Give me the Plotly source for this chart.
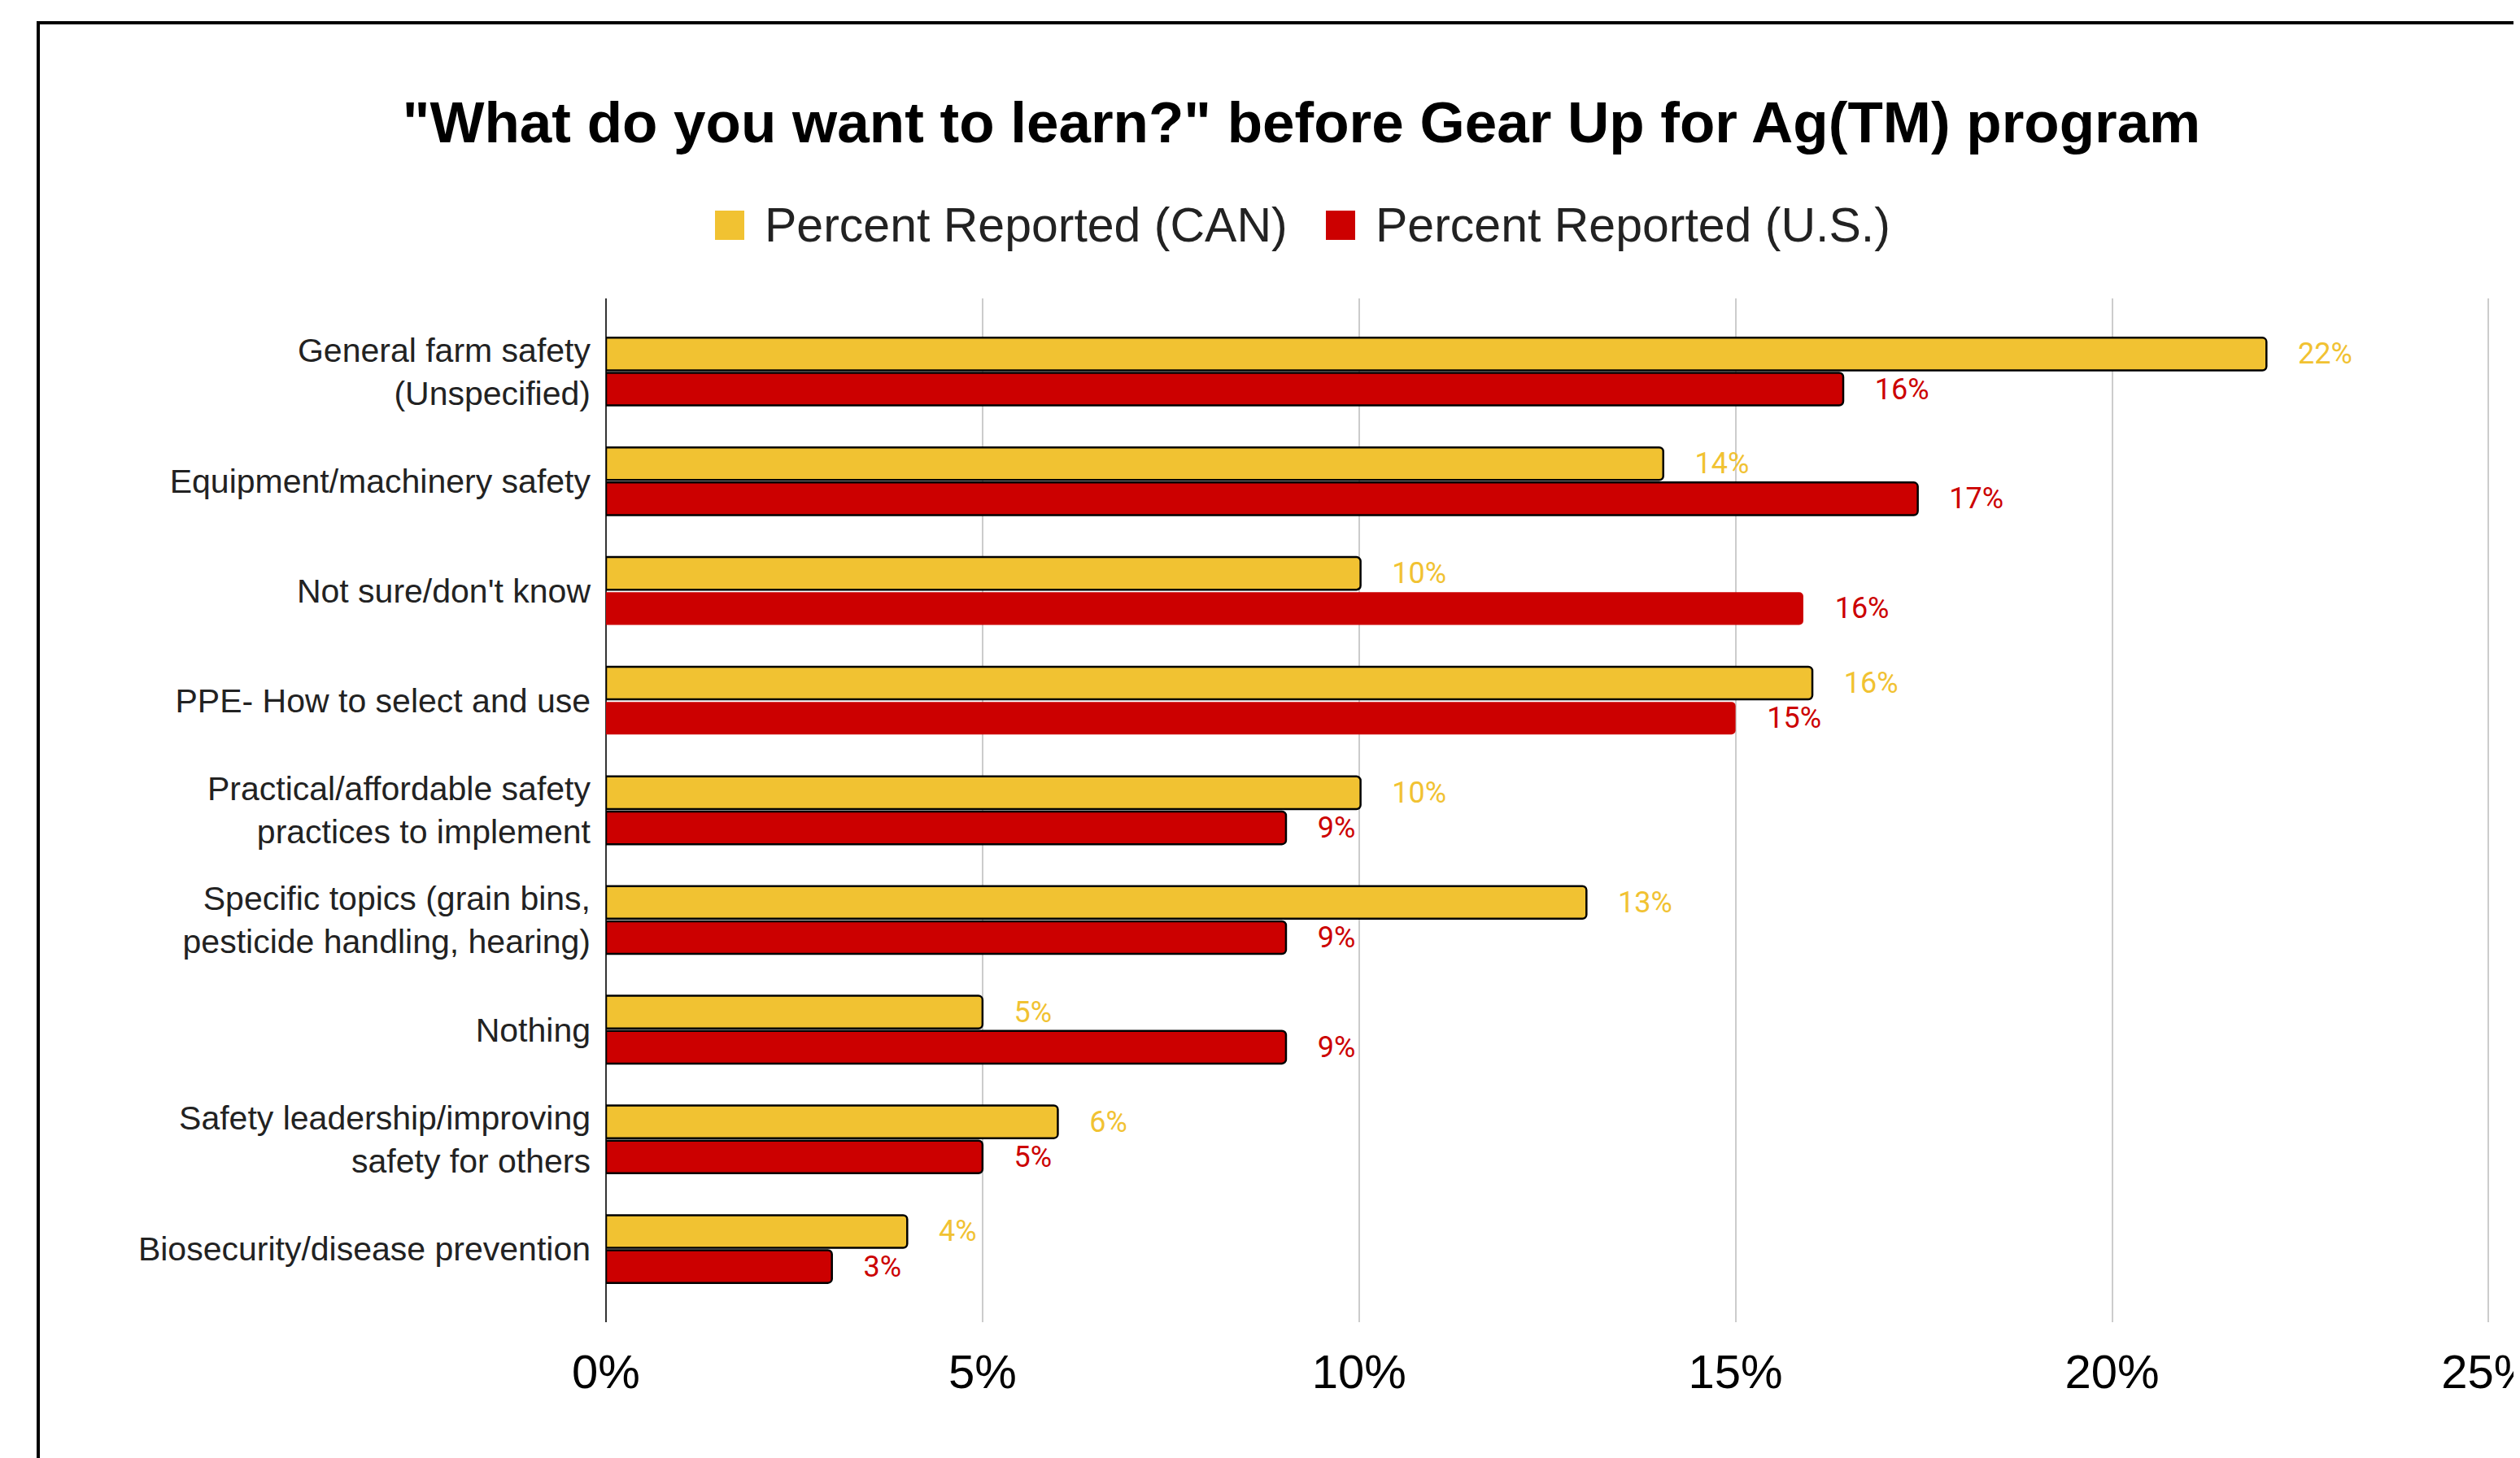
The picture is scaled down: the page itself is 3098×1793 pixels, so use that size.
import plotly.graph_objects as go

categories = [
    "General farm safety<br>(Unspecified)",
    "Equipment/machinery safety",
    "Not sure/don't know",
    "PPE- How to select and use",
    "Practical/affordable safety<br>practices to implement",
    "Specific topics (grain bins,<br>pesticide handling, hearing)",
    "Nothing",
    "Safety leadership/improving<br>safety for others",
    "Biosecurity/disease prevention",
]
can_values = [0.2205, 0.1404, 0.1002, 0.1602, 0.1002, 0.1302, 0.0500, 0.0600, 0.0400]
us_values = [0.1643, 0.1742, 0.1590, 0.1500, 0.0903, 0.0903, 0.0903, 0.0500, 0.0300]
us_outline = [2.5, 2.5, 0, 0, 2.5, 2.5, 2.5, 2.5, 2.5]
x_ticks = [0, 0.05, 0.10, 0.15, 0.20, 0.25]
series_names = ["Percent Reported (CAN)", "Percent Reported (U.S.)"]

YELLOW = "#F1C232"
RED = "#CC0000"
OFF = 8  # page body margin
W, H = 3098 - OFF, 1793 - OFF
L, R, T, B = 745 - OFF, 34, 367 - OFF, 167
pw, ph = W - L - R, H - T - B


def px_x(p):  # page x -> paper
    return (p - OFF - L) / pw


def px_y(p):  # page y -> paper
    return (H - B - (p - OFF)) / ph


pad = "\u00a0" * 4

fig = go.Figure()
fig.add_trace(go.Bar(
    y=categories, x=can_values, orientation="h", name=series_names[0],
    marker=dict(color=YELLOW, line=dict(color="black", width=2.5), cornerradius=5),
    texttemplate=pad + "%{x:.0%}", textposition="outside", cliponaxis=False,
    textfont=dict(family="Roboto", size=36, color=YELLOW), constraintext="none",
    showlegend=False,
))
fig.add_trace(go.Bar(
    y=categories, x=us_values, orientation="h", name=series_names[1],
    marker=dict(color=RED, line=dict(color="black", width=us_outline), cornerradius=5),
    texttemplate=pad + "%{x:.0%}", textposition="outside", cliponaxis=False,
    textfont=dict(family="Roboto", size=36, color=RED), constraintext="none",
    showlegend=False,
))

# legend (drawn as squares + text)
legend_items = [(series_names[0], YELLOW, 879, 938), (series_names[1], RED, 1630, 1689)]
shapes = []
annotations = []
for name, col, sq_x, tx_x in legend_items:
    shapes.append(dict(
        type="rect", xref="paper", yref="paper",
        x0=px_x(sq_x), x1=px_x(sq_x + 36), y0=px_y(295), y1=px_y(259),
        line=dict(width=0), fillcolor=col, layer="above",
    ))
    annotations.append(dict(
        text=name, xref="paper", yref="paper", x=px_x(tx_x), y=px_y(277),
        xanchor="left", yanchor="middle", showarrow=False,
        font=dict(family="Liberation Sans, Arial", size=59, color="#222222"),
    ))

shapes.append(dict(
    type="rect", xref="paper", yref="paper",
    x0=px_x(47), x1=1.3, y0=-0.5, y1=px_y(28),
    line=dict(color="black", width=4), fillcolor="rgba(0,0,0,0)", layer="above",
))

fig.update_layout(
    width=W, height=H, autosize=False,
    margin=dict(l=L, r=R, t=T, b=B, pad=0, autoexpand=False),
    paper_bgcolor="white", plot_bgcolor="white",
    barmode="group", bargap=0.36, bargroupgap=0.07,
    font=dict(family="Liberation Sans, Arial", color="black"),
    showlegend=False,
    title=dict(
        text='"What do you want to learn?" before Gear Up for Ag(TM) program',
        x=(1600 - OFF) / W, xanchor="center", xref="container",
        y=1 - (150 - OFF) / H, yanchor="middle", yref="container",
        font=dict(family="Liberation Sans, Arial", size=71, color="black", weight="bold"),
    ),
    xaxis=dict(
        range=[0, 0.2505], tickvals=x_ticks, tickformat=".0%",
        showgrid=True, gridcolor="#cccccc", gridwidth=2,
        zeroline=True, zerolinecolor="#333333", zerolinewidth=2,
        showline=False, ticks="", ticklabeloverflow="allow", automargin=False,
        tickfont=dict(family="Liberation Sans, Arial", size=58, color="black"),
        ticklabelstandoff=22,
    ),
    yaxis=dict(
        range=[8.667, -0.667], showgrid=False, zeroline=False, showline=False,
        ticks="", automargin=False,
        tickfont=dict(family="Liberation Sans, Arial", size=41, color="#222222"),
        ticklabelstandoff=18,
    ),
    shapes=shapes,
    annotations=annotations,
)

fig.write_html("out.html")
